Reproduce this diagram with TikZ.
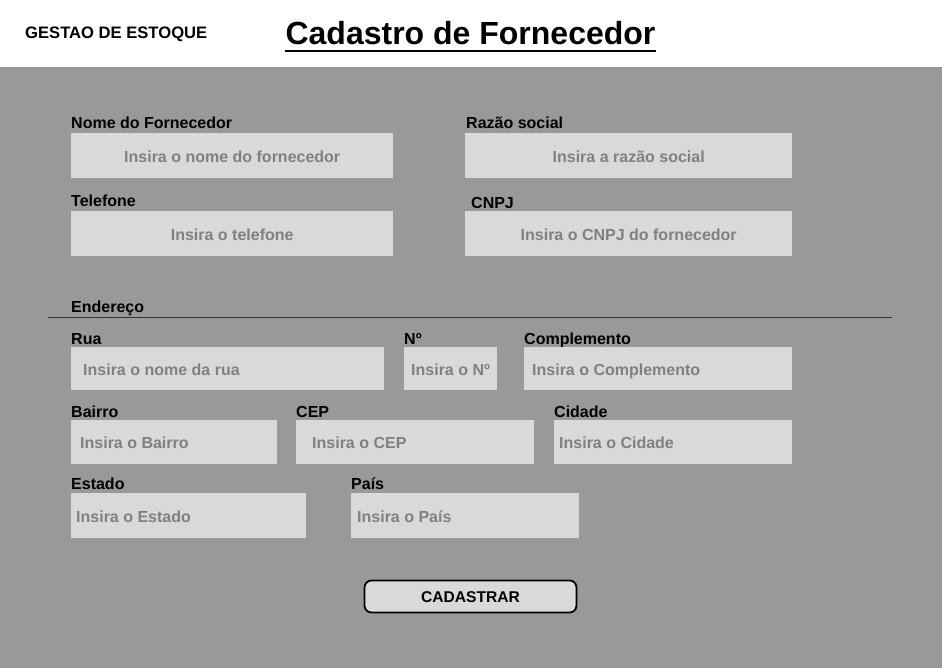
\documentclass[tikz,border=0pt]{standalone}
\usepackage{fontspec}
\setmainfont{Liberation Sans}
\usepackage{tikz}
\usetikzlibrary{positioning}
\definecolor{fundo}{HTML}{999999}
\definecolor{campo}{HTML}{D9D9D9}
\definecolor{dica}{HTML}{808080}
\tikzset{
  field/.style={fill=campo, draw=none, inner sep=0pt, anchor=north west},
  rotulo/.style={anchor=base west, inner sep=0pt, font=\fontsize{16}{18}\selectfont\bfseries},
  dica/.style={inner sep=0pt, text=dica, font=\fontsize{16}{18}\selectfont\bfseries},
}
\begin{document}
\begin{tikzpicture}[x=1pt,y=-1pt]
\useasboundingbox (0,0) rectangle (942,668);
% cabecalho
\fill[white] (0,0) rectangle (942,67);
\fill[fundo] (0,67) rectangle (942,668);
\node[anchor=base west, inner sep=0pt, font=\fontsize{16.6}{18}\selectfont\bfseries] (sistema) at (25,39) {GESTAO DE ESTOQUE};
\node[anchor=base, inner sep=0pt, font=\fontsize{32}{36}\selectfont\bfseries] (titulo) at (470.5,45) {Cadastro de Fornecedor};
\draw[line width=2pt] (285,51) -- (656,51);
% dados do fornecedor
\node[rotulo] (lnome) at (71,128.5) {Nome do Fornecedor};
\node[field, minimum width=322, minimum height=45] (nome) at (71,133) {};
\node[dica, anchor=base] at ([yshift=-7pt]nome.center) {Insira o nome do fornecedor};
\node[rotulo] (lrazao) at (466,128.5) {Razão social};
\node[field, minimum width=327, minimum height=45] (razao) at (465,133) {};
\node[dica, anchor=base] at ([yshift=-7pt]razao.center) {Insira a razão social};
\node[rotulo] (ltel) at (71,206.5) {Telefone};
\node[field, minimum width=322, minimum height=45] (tel) at (71,211) {};
\node[dica, anchor=base] at ([yshift=-7pt]tel.center) {Insira o telefone};
\node[rotulo] (lcnpj) at (471,208.5) {CNPJ};
\node[field, minimum width=327, minimum height=45] (cnpj) at (465,211) {};
\node[dica, anchor=base] at ([yshift=-7pt]cnpj.center) {Insira o CNPJ do fornecedor};
% endereco
\node[rotulo] (lend) at (71,312.5) {Endereço};
\draw[line width=0.8pt, black!80] (48,317) -- (892,317);
\node[rotulo] (lrua) at (71,344.5) {Rua};
\node[field, minimum width=313, minimum height=43] (rua) at (71,347) {};
\node[dica, anchor=base west] at ([xshift=12pt,yshift=-6.5pt]rua.center -| rua.west) {Insira o nome da rua};
\node[rotulo] (lnum) at (404,344.5) {Nº};
\node[field, minimum width=93, minimum height=43] (num) at (404,347) {};
\node[dica, anchor=base west] at ([xshift=7pt,yshift=-6.5pt]num.center -| num.west) {Insira o Nº};
\node[rotulo] (lcomp) at (524,344.5) {Complemento};
\node[field, minimum width=268, minimum height=43] (comp) at (524,347) {};
\node[dica, anchor=base west] at ([xshift=8pt,yshift=-6.5pt]comp.center -| comp.west) {Insira o Complemento};
\node[rotulo] (lbairro) at (71,417.5) {Bairro};
\node[field, minimum width=206, minimum height=44] (bairro) at (71,420) {};
\node[dica, anchor=base west] at ([xshift=9pt,yshift=-6.5pt]bairro.center -| bairro.west) {Insira o Bairro};
\node[rotulo] (lcep) at (296,417.5) {CEP};
\node[field, minimum width=238, minimum height=44] (cep) at (296,420) {};
\node[dica, anchor=base west] at ([xshift=16pt,yshift=-6.5pt]cep.center -| cep.west) {Insira o CEP};
\node[rotulo] (lcidade) at (554,417.5) {Cidade};
\node[field, minimum width=238, minimum height=44] (cidade) at (554,420) {};
\node[dica, anchor=base west] at ([xshift=5pt,yshift=-6.5pt]cidade.center -| cidade.west) {Insira o Cidade};
\node[rotulo] (lestado) at (71,489.5) {Estado};
\node[field, minimum width=235, minimum height=45] (estado) at (71,493) {};
\node[dica, anchor=base west] at ([xshift=5pt,yshift=-6.5pt]estado.center -| estado.west) {Insira o Estado};
\node[rotulo] (lpais) at (351,489.5) {País};
\node[field, minimum width=228, minimum height=45] (pais) at (351,493) {};
\node[dica, anchor=base west] at ([xshift=6pt,yshift=-6.5pt]pais.center -| pais.west) {Insira o País};
% botao
\node[fill=campo, draw=black, line width=1.8pt, rounded corners=7pt, minimum width=212, minimum height=32,
  inner sep=0pt] (cadastrar) at (470.5,596.5) {};
\node[anchor=base, inner sep=0pt, font=\fontsize{15.6}{17}\selectfont\bfseries] at (470.5,602.5) {CADASTRAR};
\end{tikzpicture}
\end{document}
